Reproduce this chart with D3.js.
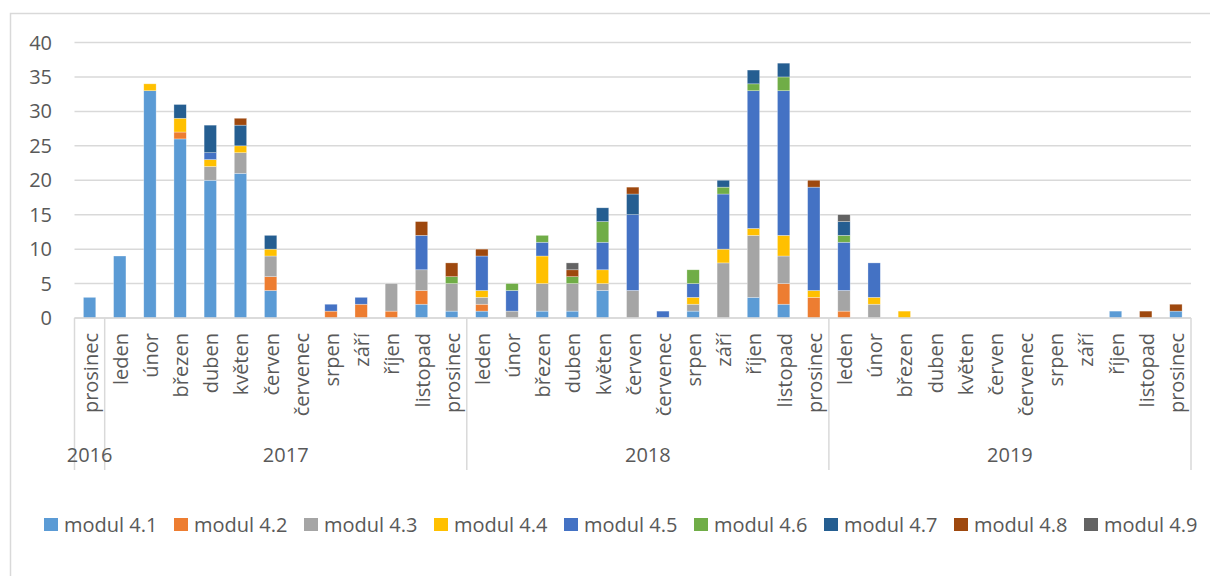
<!DOCTYPE html>
<html>
<head>
<meta charset="utf-8">
<script src="https://cdn.jsdelivr.net/npm/d3@7"></script>
<style>
  body { margin: 0; background: #fff; }
  svg { display: block; font-family: "Open Sans", sans-serif; }
</style>
</head>
<body>
<svg id="chart" width="1210" height="576"></svg>
<script>
const years = [
    { year: '2016', months: ['prosinec'] },
    { year: '2017', months: ['leden', 'únor', 'březen', 'duben', 'květen', 'červen', 'červenec', 'srpen', 'září', 'říjen', 'listopad', 'prosinec'] },
    { year: '2018', months: ['leden', 'únor', 'březen', 'duben', 'květen', 'červen', 'červenec', 'srpen', 'září', 'říjen', 'listopad', 'prosinec'] },
    { year: '2019', months: ['leden', 'únor', 'březen', 'duben', 'květen', 'červen', 'červenec', 'srpen', 'září', 'říjen', 'listopad', 'prosinec'] },
];
const seriesNames = ['modul 4.1', 'modul 4.2', 'modul 4.3', 'modul 4.4', 'modul 4.5', 'modul 4.6', 'modul 4.7', 'modul 4.8', 'modul 4.9'];
const seriesColors = ['#5B9BD5', '#ED7D31', '#A5A5A5', '#FFC000', '#4472C4', '#70AD47', '#255E91', '#9E480E', '#636363'];

const m41 = [3, 9, 33, 26, 20, 21, 4, 0, 0, 0, 0, 2, 1, 1, 0, 1, 1, 4, 0, 0, 1, 0, 3, 2, 0, 0, 0, 0, 0, 0, 0, 0, 0, 0, 1, 0, 1];
const m42 = [0, 0, 0, 1, 0, 0, 2, 0, 1, 2, 1, 2, 0, 1, 0, 0, 0, 0, 0, 0, 0, 0, 0, 3, 3, 1, 0, 0, 0, 0, 0, 0, 0, 0, 0, 0, 0];
const m43 = [0, 0, 0, 0, 2, 3, 3, 0, 0, 0, 4, 3, 4, 1, 1, 4, 4, 1, 4, 0, 1, 8, 9, 4, 0, 3, 2, 0, 0, 0, 0, 0, 0, 0, 0, 0, 0];
const m44 = [0, 0, 1, 2, 1, 1, 1, 0, 0, 0, 0, 0, 0, 1, 0, 4, 0, 2, 0, 0, 1, 2, 1, 3, 1, 0, 1, 1, 0, 0, 0, 0, 0, 0, 0, 0, 0];
const m45 = [0, 0, 0, 0, 1, 0, 0, 0, 1, 1, 0, 5, 0, 5, 3, 2, 0, 4, 11, 1, 2, 8, 20, 21, 15, 7, 5, 0, 0, 0, 0, 0, 0, 0, 0, 0, 0];
const m46 = [0, 0, 0, 0, 0, 0, 0, 0, 0, 0, 0, 0, 1, 0, 1, 1, 1, 3, 0, 0, 2, 1, 1, 2, 0, 1, 0, 0, 0, 0, 0, 0, 0, 0, 0, 0, 0];
const m47 = [0, 0, 0, 2, 4, 3, 2, 0, 0, 0, 0, 0, 0, 0, 0, 0, 0, 2, 3, 0, 0, 1, 2, 2, 0, 2, 0, 0, 0, 0, 0, 0, 0, 0, 0, 0, 0];
const m48 = [0, 0, 0, 0, 0, 1, 0, 0, 0, 0, 0, 2, 2, 1, 0, 0, 1, 0, 1, 0, 0, 0, 0, 0, 1, 0, 0, 0, 0, 0, 0, 0, 0, 0, 0, 1, 1];
const m49 = [0, 0, 0, 0, 0, 0, 0, 0, 0, 0, 0, 0, 0, 0, 0, 0, 1, 0, 0, 0, 0, 0, 0, 0, 0, 1, 0, 0, 0, 0, 0, 0, 0, 0, 0, 0, 0];
const yTicks = [0, 5, 10, 15, 20, 25, 30, 35, 40];

const seriesValues = [m41, m42, m43, m44, m45, m46, m47, m48, m49];

// flatten categories
const cats = [];
years.forEach(y => y.months.forEach(m => cats.push({ id: `${y.year}-${m}`, year: y.year, month: m })));
const rows = cats.map((c, i) => {
    const r = { id: c.id };
    seriesNames.forEach((s, k) => r[s] = seriesValues[k][i]);
    return r;
});

const svg = d3.select('#chart');
const textColor = '#595959';
const gridColor = '#d9d9d9';

// outer frame
svg.append('rect')
    .attr('x', 10.5).attr('y', 13.5)
    .attr('width', 1230).attr('height', 600)
    .attr('fill', 'none').attr('stroke', gridColor).attr('stroke-width', 1.5);

const x = d3.scaleBand().domain(cats.map(c => c.id)).range([74.5, 1191]).padding(0);
const y = d3.scaleLinear().domain([0, 40]).range([318, 42.5]);
const barW = x.bandwidth() * 0.41;

// gridlines
svg.append('g').selectAll('line')
    .data(yTicks)
    .join('line')
    .attr('x1', 74.5).attr('x2', 1191)
    .attr('y1', d => y(d)).attr('y2', d => y(d))
    .attr('stroke', gridColor).attr('stroke-width', 1.5);

// y labels
svg.append('g').selectAll('text')
    .data(yTicks)
    .join('text')
    .attr('x', 52).attr('y', d => y(d))
    .attr('dy', '0.35em')
    .attr('text-anchor', 'end')
    .attr('fill', textColor)
    .attr('font-size', 20)
    .text(d => d);

// stacked bars
const stack = d3.stack().keys(seriesNames)(rows);
svg.append('g').selectAll('g')
    .data(stack)
    .join('g')
    .attr('fill', (d, i) => seriesColors[i])
    .selectAll('rect')
    .data(d => d.filter(p => p[1] - p[0] > 0))
    .join('rect')
    .attr('x', d => x(d.data.id) + (x.bandwidth() - barW) / 2)
    .attr('width', barW)
    .attr('y', d => y(d[1]))
    .attr('height', d => y(d[0]) - y(d[1]))
    .attr('stroke', '#fff').attr('stroke-width', 0.6).attr('stroke-opacity', 0.5);

// month labels
svg.append('g').selectAll('text')
    .data(cats)
    .join('text')
    .attr('transform', d => `translate(${x(d.id) + x.bandwidth() / 2}, 333) rotate(-90)`)
    .attr('y', 8)
    .attr('text-anchor', 'end')
    .attr('fill', textColor)
    .attr('font-size', 20)
    .text(d => d.month);

// year groups and separators
let start = 0;
const yearSpans = years.map(yr => {
    const s = { year: yr.year, first: cats[start].id, last: cats[start + yr.months.length - 1].id };
    start += yr.months.length;
    return s;
});
const sepX = [x(yearSpans[0].first)].concat(yearSpans.map(s => x(s.last) + x.bandwidth()));
svg.append('g').selectAll('line')
    .data(sepX)
    .join('line')
    .attr('x1', d => d).attr('x2', d => d)
    .attr('y1', 318).attr('y2', 470)
    .attr('stroke', gridColor).attr('stroke-width', 1.5);

svg.append('g').selectAll('text')
    .data(yearSpans)
    .join('text')
    .attr('x', d => (x(d.first) + x(d.last) + x.bandwidth()) / 2)
    .attr('y', 455)
    .attr('dy', '0.35em')
    .attr('text-anchor', 'middle')
    .attr('fill', textColor)
    .attr('font-size', 20)
    .text(d => d.year);

// axis line
svg.append('line')
    .attr('x1', 74.5).attr('x2', 1191)
    .attr('y1', 318).attr('y2', 318)
    .attr('stroke', gridColor).attr('stroke-width', 1.5);

// legend
const legend = svg.append('g').selectAll('g')
    .data(seriesNames)
    .join('g')
    .attr('transform', (d, i) => `translate(${44 + i * 130}, 518)`);
legend.append('rect')
    .attr('width', 14).attr('height', 13)
    .attr('fill', (d, i) => seriesColors[i]);
legend.append('text')
    .attr('x', 20).attr('y', 7)
    .attr('dy', '0.35em')
    .attr('fill', textColor)
    .attr('font-size', 20)
    .text(d => d);
</script>
</body>
</html>
